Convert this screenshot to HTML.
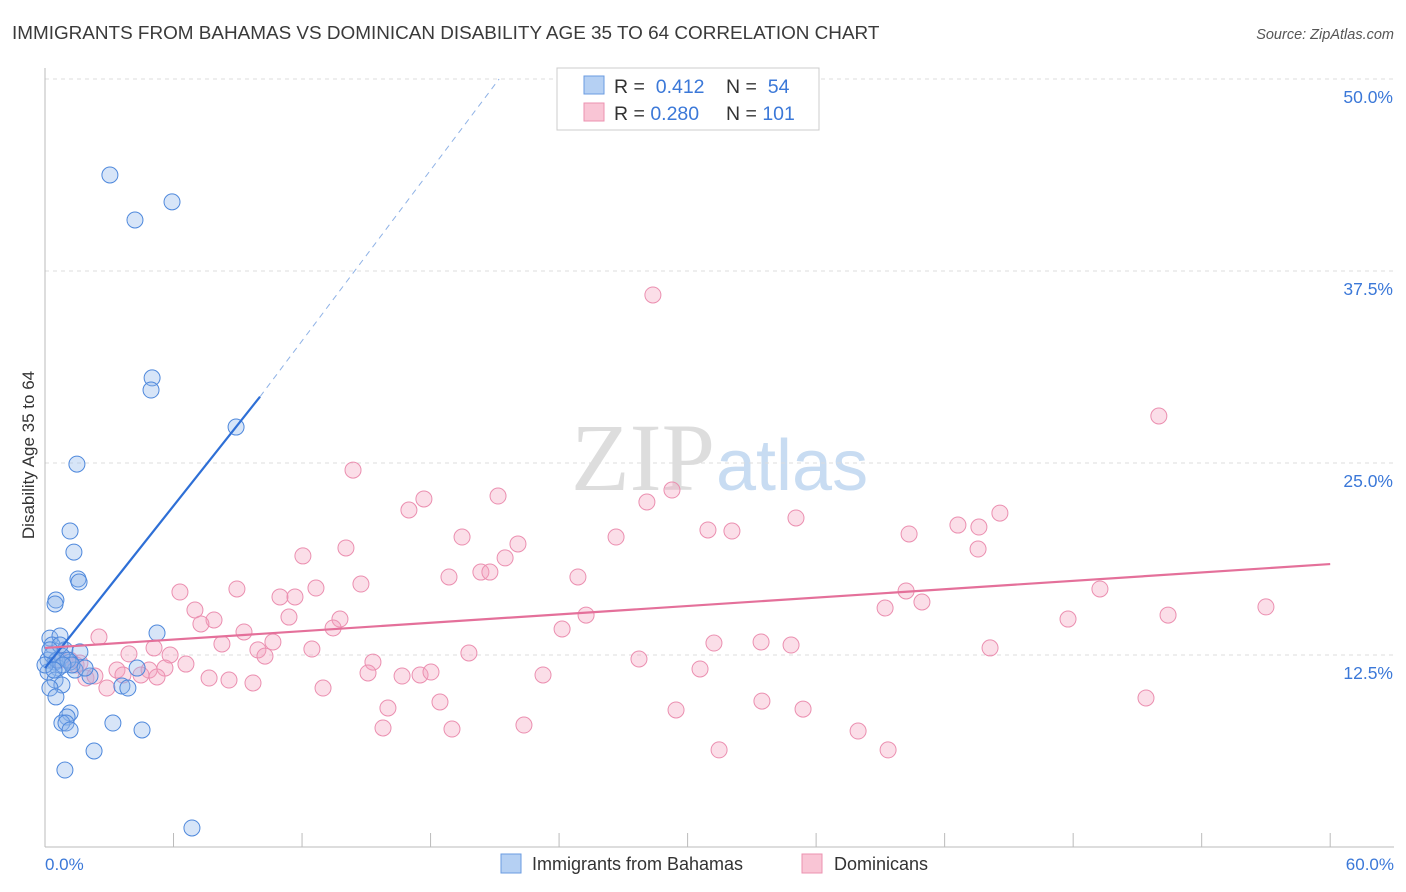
<!DOCTYPE html>
<html><head><meta charset="utf-8">
<style>
body{margin:0;background:#fff;font-family:"Liberation Sans",sans-serif;}
svg{display:block}
</style></head>
<body>
<svg id="chart" width="1406" height="892">
<text x="12" y="39" font-size="18.9" fill="#3a3a3a">IMMIGRANTS FROM BAHAMAS VS DOMINICAN DISABILITY AGE 35 TO 64 CORRELATION CHART</text>
<text x="1394" y="39" font-size="14.5" fill="#555" font-style="italic" text-anchor="end">Source: ZipAtlas.com</text>
<text x="715" y="490" font-size="96" fill="#ddd" text-anchor="end" font-family="Liberation Serif,serif">ZIP</text>
<text x="716" y="490" font-size="72" fill="#c8dcf2">atlas</text>
<g id="grid"></g><g id="axes"></g><g id="pts"></g><g id="trend"></g>
<text transform="translate(34,455) rotate(-90)" font-size="17" fill="#333" text-anchor="middle">Disability Age 35 to 64</text>
<text x="45" y="870" font-size="17" fill="#3b78d8">0.0%</text>
<text x="1394" y="870" font-size="17" fill="#3b78d8" text-anchor="end">60.0%</text>
<g>
<rect x="557" y="68" width="262" height="62" fill="#fff" stroke="#ccc"/>
<rect x="584" y="76" width="20" height="18" fill="#b5d0f3" stroke="#6a9be0"/>
<rect x="584" y="103" width="20" height="18" fill="#f9c5d5" stroke="#ec92b0"/>
<text x="614" y="93" font-size="19.5" fill="#333">R = <tspan fill="#3b78d8">&#160;0.412</tspan><tspan x="726">N = </tspan><tspan fill="#3b78d8">&#160;54</tspan></text>
<text x="614" y="120" font-size="19.5" fill="#333">R = <tspan fill="#3b78d8">0.280</tspan><tspan x="726">N = </tspan><tspan fill="#3b78d8">101</tspan></text>
</g>
<g><rect x="501" y="854" width="20" height="19" fill="#b5d0f3" stroke="#6a9be0"/><text x="532" y="870" font-size="18" fill="#333">Immigrants from Bahamas</text></g>
<g><rect x="802" y="854" width="20" height="19" fill="#f9c5d5" stroke="#ec92b0"/><text x="834" y="870" font-size="18" fill="#333">Dominicans</text></g>
</svg>
<script>
const yTicks=[12.5,25,37.5,50];
const yTickLabels=["12.5%","25.0%","37.5%","50.0%"];
const xTicks=[6,12,18,24,30,36,42,48,54,60];
const blueX=[3.03,4.2,5.93,5.0,4.95,8.92,1.49,1.17,1.35,1.54,1.59,0.51,0.47,5.23,0.23,0.7,0.33,0.93,1.63,0.14,0.47,1.17,0.79,0.61,0.14,1.4,2.1,0.47,0.79,0.23,3.59,3.87,4.3,0.51,1.17,1.03,0.79,0.98,3.17,4.53,1.17,2.29,0.93,6.86,0.33,0.56,0,1.07,1.26,0.7,0.23,1.87,0.84,0.42];
const blueY=[43.75,40.82,42.0,30.54,29.75,27.34,24.93,20.57,19.2,17.45,17.25,16.08,15.82,13.93,13.6,13.74,13.15,12.83,12.7,12.17,12.04,12.04,12.43,11.65,11.39,11.52,11.13,10.87,10.55,10.35,10.48,10.35,11.65,9.77,8.72,8.46,8.07,8.07,8.07,7.62,7.62,6.25,5.01,1.24,12.5,12.17,11.85,12.17,11.85,13.15,12.83,11.65,11.85,11.52];
const pinkX=[28.38,52.0,14.38,21.15,17.69,29.27,16.99,28.1,35.06,30.95,32.07,44.58,42.62,43.6,19.47,26.66,40.34,22.08,14.05,12.04,43.56,21.48,20.35,20.77,18.86,24.88,14.75,12.65,8.96,6.3,10.97,11.67,49.25,40.2,40.94,7.0,39.22,57.0,11.39,13.77,25.26,52.43,47.76,7.89,7.28,13.45,9.29,24.14,2.52,31.23,33.43,34.83,8.26,10.64,12.46,44.12,9.94,5.09,10.27,3.92,5.84,19.79,27.73,15.31,0.7,1.45,6.58,5.6,1.63,3.36,4.86,4.48,3.64,15.08,16.67,17.51,18.02,30.58,1.91,2.33,5.23,7.66,8.59,9.71,23.25,12.98,2.89,51.4,18.44,33.47,16.01,29.46,35.39,22.36,15.78,19.0,37.96,31.47,39.36,1.17];
const pinkY=[35.94,28.06,24.54,22.85,22.66,23.24,21.94,22.46,21.42,20.64,20.57,21.74,20.96,20.83,20.18,20.18,20.38,19.73,19.47,18.95,19.4,18.82,17.9,17.9,17.58,17.58,17.12,16.86,16.8,16.6,16.28,16.28,16.8,16.67,15.95,15.43,15.56,15.63,14.97,14.84,15.1,15.1,14.84,14.78,14.52,14.26,14.0,14.19,13.67,13.28,13.35,13.15,13.22,13.35,12.89,12.96,12.83,12.96,12.43,12.57,12.5,12.63,12.24,12.04,12.17,11.85,11.91,11.65,11.98,11.52,11.52,11.2,11.2,11.33,11.13,11.2,11.39,11.59,11.0,11.13,11.07,11.0,10.87,10.68,11.2,10.35,10.35,9.7,9.44,9.5,9.05,8.92,8.98,7.94,7.75,7.68,7.55,6.32,6.32,12.17];
const blueTrend=[11.65,1.76];
const pinkTrend=[12.96,0.091];
const NS="http://www.w3.org/2000/svg";
const sx=v=>45+v*21.42, sy=v=>847-v*15.36;
function mk(tag,attrs,parent){const e=document.createElementNS(NS,tag);for(const k in attrs)e.setAttribute(k,attrs[k]);document.getElementById(parent).appendChild(e);return e;}
yTicks.forEach((t,i)=>{
 const g=mk('line',{x1:45,x2:1394,y1:sy(t),y2:sy(t),stroke:'#ddd','stroke-dasharray':'4,4'},'grid');
 
 
 const l=mk('text',{x:1393,y:sy(t)+24,'font-size':17.5,fill:'#3b78d8','text-anchor':'end'},'grid');
 l.textContent=yTickLabels[i];
 
 
});
const ax=mk('line',{x1:45,x2:1394,y1:847,y2:847,stroke:'#bbb'},'axes');


const ay=mk('line',{x1:45,x2:45,y1:68,y2:847,stroke:'#bbb'},'axes');


xTicks.forEach(t=>{
 const tk=mk('line',{x1:sx(t),x2:sx(t),y1:833,y2:847,stroke:'#bbb'},'axes');
 
 
});
pinkX.forEach((x,i)=>{
 const c=mk('circle',{cx:sx(x),cy:sy(pinkY[i]),r:8,fill:'rgba(244,160,190,0.35)',stroke:'#eb8fb0','stroke-width':1},'pts');
 
 
});
blueX.forEach((x,i)=>{
 const c=mk('circle',{cx:sx(x),cy:sy(blueY[i]),r:8,fill:'rgba(140,180,235,0.35)',stroke:'#4e88dc','stroke-width':1},'pts');
 
 
});
const bEnd=10.04, bDash=21.2;
const b1=mk('line',{x1:sx(0),y1:sy(blueTrend[0]),x2:sx(bEnd),y2:sy(blueTrend[0]+blueTrend[1]*bEnd),stroke:'#2e6fd6','stroke-width':2.2},'trend');


const b2=mk('line',{x1:sx(bEnd),y1:sy(blueTrend[0]+blueTrend[1]*bEnd),x2:sx(bDash),y2:sy(50),stroke:'#8fb2e6','stroke-width':1,'stroke-dasharray':'6,5'},'trend');


const p1=mk('line',{x1:sx(0),y1:sy(pinkTrend[0]),x2:sx(60),y2:sy(pinkTrend[0]+pinkTrend[1]*60),stroke:'#e4709a','stroke-width':2.2},'trend');


</script>
</body></html>
